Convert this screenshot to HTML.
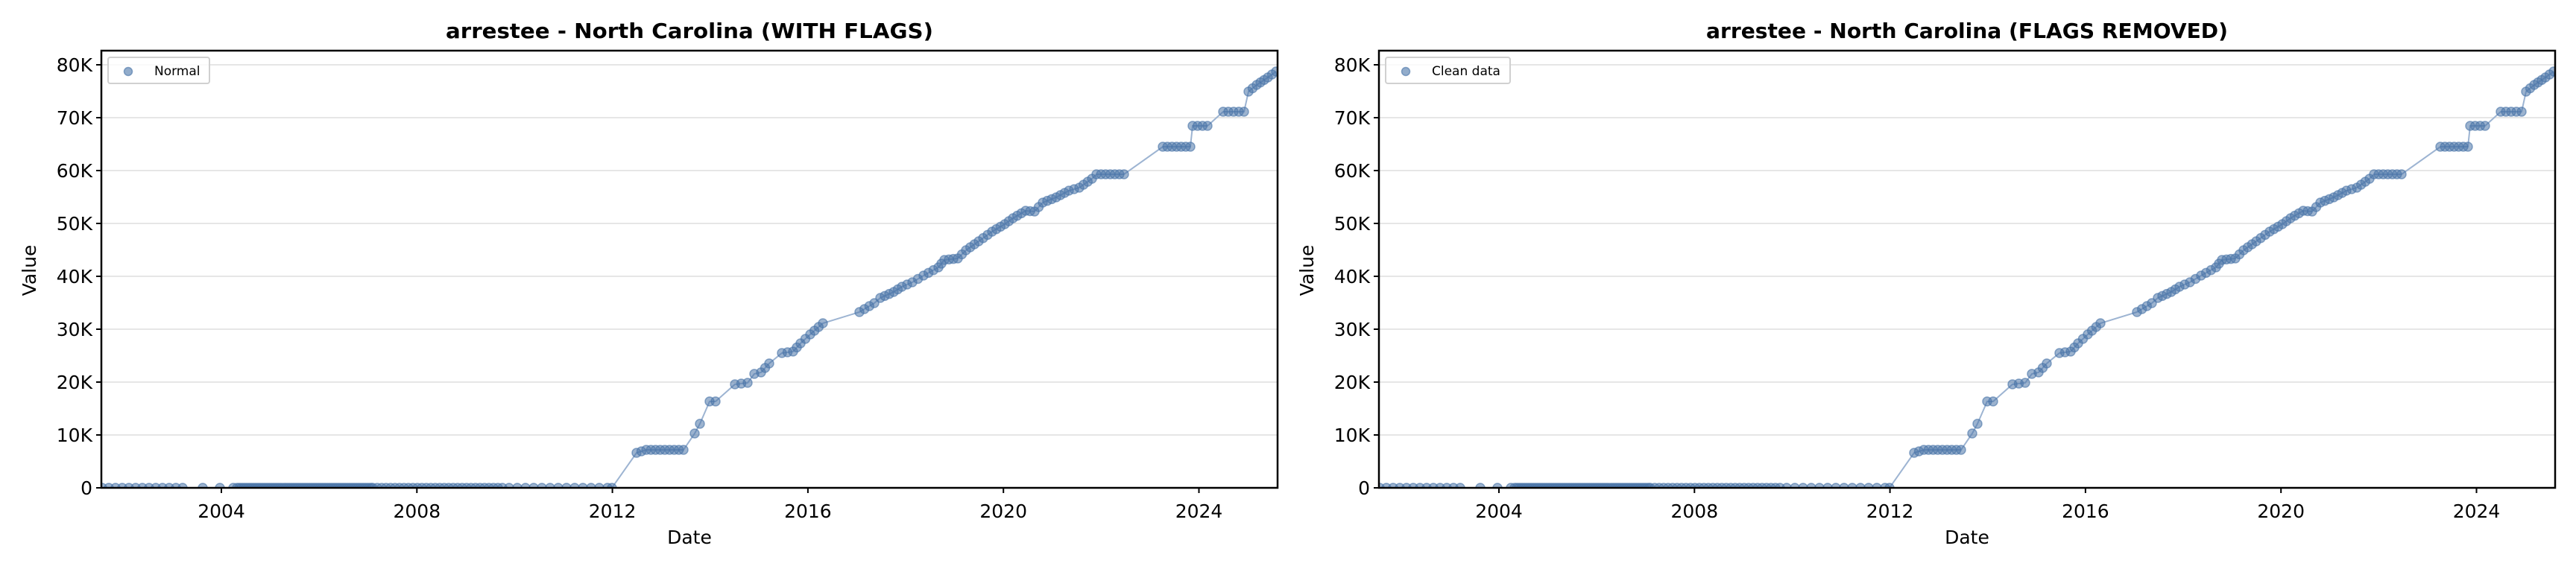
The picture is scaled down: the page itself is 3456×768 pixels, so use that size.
<!DOCTYPE html>
<html><head><meta charset="utf-8"><style>
html,body{margin:0;padding:0;background:#fff;}
svg{display:block;font-family:"DejaVu Sans","Liberation Sans",sans-serif;}
</style></head><body>
<svg id="s" width="3456" height="768" viewBox="0 0 3456 768" xmlns="http://www.w3.org/2000/svg"></svg>
<script>
const NS="http://www.w3.org/2000/svg";
const s=document.getElementById('s');
function el(t,a,p){const e=document.createElementNS(NS,t);for(const k in a)e.setAttribute(k,a[k]);(p||s).appendChild(e);return e;}
function txt(x,y,str,a){const e=el('text',Object.assign({x:x,y:y},a));e.textContent=str;return e;}
const V=[[854,608],[867,604],[917,604],[932,582],[939,569],[952,539],[960,539],[986,516],[1003,514],[1012,502],[1021,500],[1032,488],[1049,474],[1064,472],[1074,461],[1087,449],[1104,434],[1153,419],[1173,407],[1181,400],[1199,392],[1210,385],[1224,379],[1239,370],[1259,359],[1267,349],[1285,347],[1296,336],[1313,324],[1331,311],[1348,301],[1359,293],[1376,283],[1388,284],[1399,272],[1417,265],[1434,256],[1448,252],[1465,240],[1471,234],[1508,234],[1560,197],[1597,197],[1600,169],[1620,169],[1641,150],[1669,150],[1675,123],[1686,114],[1701,104],[1712,96]];
const sparseGaps=[[1104,1153],[1508,1560],[1597,1600],[1620,1641],[1669,1675],[917,932],[939,952],[960,986],[1032,1049]];
function pts(){
  const P=[];
  const zeros=[[137,246,9],[272,272,1],[295,295,1],[313,313,1],[318,500,3],[500,675,6],[683,820,11]];
  zeros.forEach(([a,b,st])=>{for(let x=a;x<=b;x+=st)P.push([x,655]);});
  P.push([821,655]);
  for(let i=0;i<V.length-1;i++){
    const [x1,y1]=V[i],[x2,y2]=V[i+1];
    const gap=sparseGaps.some(g=>g[0]==x1&&g[1]==x2)||Math.abs(y2-y1)>1.3*Math.abs(x2-x1);
    P.push([x1,y1]);
    if(gap)continue;
    const d=Math.hypot(x2-x1,y2-y1);const n=Math.floor(d/6);
    for(let k=1;k<n;k++)P.push([x1+(x2-x1)*k/n,y1+(y2-y1)*k/n]);
  }
  P.push(V[V.length-1]);
  return P;
}
const P=pts();
function panel(off,title,leg,legW){
  const L=136+off,R=1714+off,T=68,B=655;
  for(let i=0;i<=8;i++){const y=655-i*71;
    if(i>0)el('line',{x1:L,x2:R,y1:y,y2:y,stroke:'#e6e6e6','stroke-width':2});
    el('line',{x1:L-7,x2:L,y1:y,y2:y,stroke:'#000','stroke-width':2});
    txt(L-12,y+9,i==0?'0':(i*10)+'K',{'font-size':25,'text-anchor':'end'});
  }
  [2004,2008,2012,2016,2020,2024].forEach((yr,j)=>{const x=297+off+j*262.3;
    el('line',{x1:x,x2:x,y1:B,y2:B+7,stroke:'#000','stroke-width':2});
    txt(x,B+40,''+yr,{'font-size':25,'text-anchor':'middle'});});
  const g=el('g',{});
  const cp=el('clipPath',{id:'c'+off});el('rect',{x:L,y:T,width:R-L,height:B-T},cp);
  g.setAttribute('clip-path','url(#c'+off+')');
  const line=[[137,655],[821,655]].concat(V);
  el('polyline',{points:line.map(p=>(p[0]+off)+','+p[1]).join(' '),fill:'none',stroke:'#9db4d2','stroke-width':2},g);
  P.forEach(p=>el('circle',{cx:p[0]+off,cy:p[1],r:6,fill:'#4a74a8','fill-opacity':0.55,stroke:'#4a74a8','stroke-opacity':0.6,'stroke-width':1.5},g));
  el('rect',{x:L,y:T,width:R-L,height:B-T,fill:'none',stroke:'#000','stroke-width':2.5});
  el('rect',{x:L+9,y:77,width:legW,height:35,rx:3,fill:'#fff','fill-opacity':0.8,stroke:'#d0d0d0','stroke-width':2});
  el('circle',{cx:L+36,cy:96,r:5.5,fill:'#4a74a8','fill-opacity':0.6,stroke:'#4a74a8','stroke-opacity':0.6,'stroke-width':1.5});
  txt(L+71,101,leg,{'font-size':17});
  txt((L+R)/2,51,title,{'font-size':28,'font-weight':'bold','text-anchor':'middle',textLength:title.length>40?700:654,lengthAdjust:'spacingAndGlyphs'});
  txt((L+R)/2,730,'Date',{'font-size':25,'text-anchor':'middle'});
  txt(0,0,'Value',{'font-size':25,'text-anchor':'middle',transform:'translate('+(off+48)+',363) rotate(-90)'});
}
panel(0,'arrestee - North Carolina (WITH FLAGS)','Normal',136);
panel(1714,'arrestee - North Carolina (FLAGS REMOVED)','Clean data',167);
</script>
</body></html>
